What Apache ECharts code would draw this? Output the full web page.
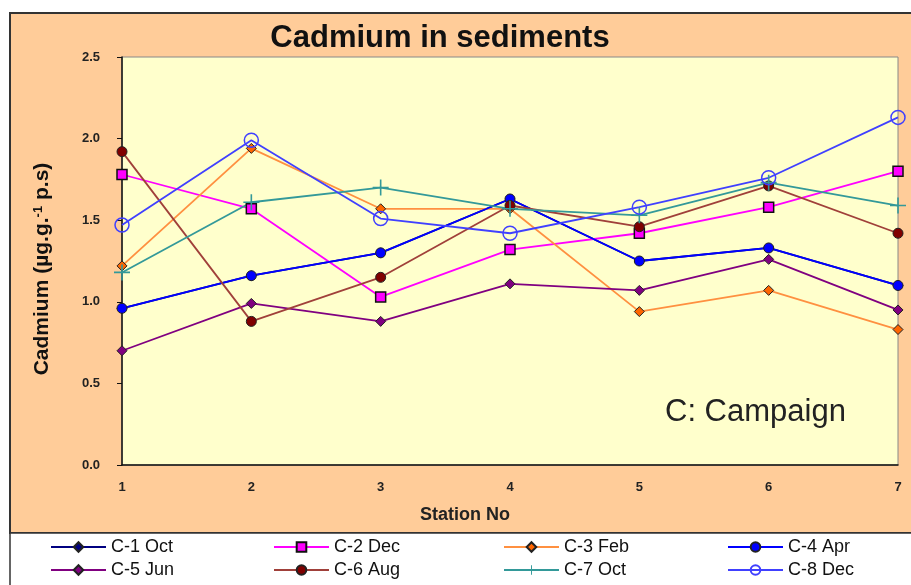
<!DOCTYPE html>
<html>
<head>
<meta charset="utf-8">
<script src="https://cdn.jsdelivr.net/npm/echarts@6/dist/echarts.min.js"></script>
<style>
  html, body { margin: 0; padding: 0; background: #fff; }
  #chart { width: 911px; height: 585px; }
</style>
</head>
<body>
<div id="chart"></div>
<script>
// 站点与各期数据
const stations = ["1", "2", "3", "4", "5", "6", "7"];
const c1Oct = [0.96, 1.16, 1.30, 1.63, 1.25, 1.33, 1.10];
const c2Dec = [1.78, 1.57, 1.03, 1.32, 1.42, 1.58, 1.80];
const c3Feb = [1.22, 1.94, 1.57, 1.57, 0.94, 1.07, 0.83];
const c4Apr = [0.96, 1.16, 1.30, 1.63, 1.25, 1.33, 1.10];
const c5Jun = [0.70, 0.99, 0.88, 1.11, 1.07, 1.26, 0.95];
const c6Aug = [1.92, 0.88, 1.15, 1.59, 1.46, 1.71, 1.42];
const c7Oct = [1.18, 1.61, 1.70, 1.57, 1.53, 1.73, 1.59];
const c8Dec = [1.47, 1.99, 1.51, 1.42, 1.58, 1.76, 2.13];
const yTicks = [0, 0.5, 1.0, 1.5, 2.0, 2.5];
const legendCols = [
  ["C-1 Oct", "C-5 Jun"],
  ["C-2 Dec", "C-6 Aug"],
  ["C-3 Feb", "C-7 Oct"],
  ["C-4 Apr", "C-8 Dec"],
];

const chart = echarts.init(document.getElementById("chart"));

const plus = "path://M9,0h2v9h9v2h-9v9h-2v-9h-9v-2h9z";

// 线条样式
const mk = (name, data, line, symbol, fill, size, border) => ({
  name: name,
  type: "line",
  data: data,
  symbol: symbol,
  symbolSize: size,
  lineStyle: { color: line, width: 1.8 },
  itemStyle: {
    color: fill,
    borderColor: border || "#222",
    borderWidth: border ? 1.5 : 1,
  },
  emphasis: { disabled: true },
});

// 图例每列一个，竖排两行
const colLeft = [45, 268, 498, 722];
const legends = legendCols.map((names, i) => ({
  data: names,
  orient: "vertical",
  left: colLeft[i],
  top: 533,
  itemWidth: 55,
  itemHeight: 12,
  itemGap: 5,
  textStyle: { fontFamily: "Arial", fontSize: 18, color: "#111" },
}));

const options = {
  animation: false,
  textStyle: { fontFamily: "Arial" },
  grid: {
    left: 122,
    top: 57,
    right: 13,
    bottom: 120,
    show: true,
    backgroundColor: "#FFFFCC",
    borderColor: "#888",
    borderWidth: 1,
  },
  graphic: [
    {
      type: "rect",
      z: -10,
      shape: { x: 10, y: 13, width: 910, height: 520 },
      style: { fill: "#FFCC99", stroke: "#333", lineWidth: 2 },
    },
    {
      type: "rect",
      z: -10,
      shape: { x: 10, y: 533, width: 910, height: 60 },
      style: { fill: "#fff", stroke: "#333", lineWidth: 1.5 },
    },
    {
      type: "text",
      z: 100,
      x: 440,
      y: 38,
      style: {
        text: "Cadmium in sediments",
        fontFamily: "Arial",
        fontSize: 31,
        fontWeight: "bold",
        fill: "#111",
        align: "center",
        verticalAlign: "middle",
      },
    },
    {
      type: "text",
      z: 100,
      x: 465,
      y: 515,
      style: {
        text: "Station No",
        fontFamily: "Arial",
        fontSize: 18,
        fontWeight: "bold",
        fill: "#222",
        align: "center",
        verticalAlign: "middle",
      },
    },
    {
      type: "text",
      z: 100,
      x: 42,
      y: 269,
      rotation: Math.PI / 2,
      style: {
        text: "{m|Cadmium (µg.g.}{s|-1}{m| p.s)}",
        align: "center",
        verticalAlign: "middle",
        rich: {
          m: { fontFamily: "Arial", fontSize: 21, fontWeight: "bold", fill: "#111" },
          s: { fontFamily: "Arial", fontSize: 13, fontWeight: "bold", fill: "#111", verticalAlign: "top" },
        },
      },
    },
    {
      type: "text",
      z: 100,
      x: 665,
      y: 412,
      style: {
        text: "C: Campaign",
        fontFamily: "Arial",
        fontSize: 31,
        fill: "#222",
        verticalAlign: "middle",
      },
    },
  ],
  legend: legends,
  xAxis: {
    type: "category",
    data: stations,
    boundaryGap: false,
    axisLine: { lineStyle: { color: "#111", width: 1.5 } },
    axisTick: { show: false },
    axisLabel: { fontSize: 13, fontWeight: "bold", color: "#222", margin: 16 },
  },
  yAxis: {
    type: "value",
    min: yTicks[0],
    max: yTicks[yTicks.length - 1],
    interval: 0.5,
    splitLine: { show: false },
    axisLine: { show: true, lineStyle: { color: "#111", width: 1.5 } },
    axisTick: { show: true, length: 5, lineStyle: { color: "#111" } },
    axisLabel: {
      fontSize: 13,
      fontWeight: "bold",
      color: "#222",
      margin: 22,
      formatter: (v) => v.toFixed(1),
    },
  },
  series: [
    mk("C-1 Oct", c1Oct, "#000080", "diamond", "#000080", 10),
    mk("C-2 Dec", c2Dec, "#FF00FF", "rect", "#FF00FF", 10, "#111"),
    mk("C-3 Feb", c3Feb, "#FF9040", "diamond", "#FF6600", 10),
    mk("C-4 Apr", c4Apr, "#0000FF", "circle", "#0000FF", 10),
    mk("C-5 Jun", c5Jun, "#800080", "diamond", "#800080", 10),
    mk("C-6 Aug", c6Aug, "#A0403A", "circle", "#800000", 10),
    Object.assign(mk("C-7 Oct", c7Oct, "#339999", plus, "#339999", 16), {
      itemStyle: { color: "#339999", borderWidth: 0 },
    }),
    Object.assign(mk("C-8 Dec", c8Dec, "#4040FF", "circle", "rgba(0,0,0,0)", 14), {
      itemStyle: { color: "rgba(0,0,0,0)", borderColor: "#4040FF", borderWidth: 1.5 },
    }),
  ],
};

chart.setOption(options);
</script>
</body>
</html>
